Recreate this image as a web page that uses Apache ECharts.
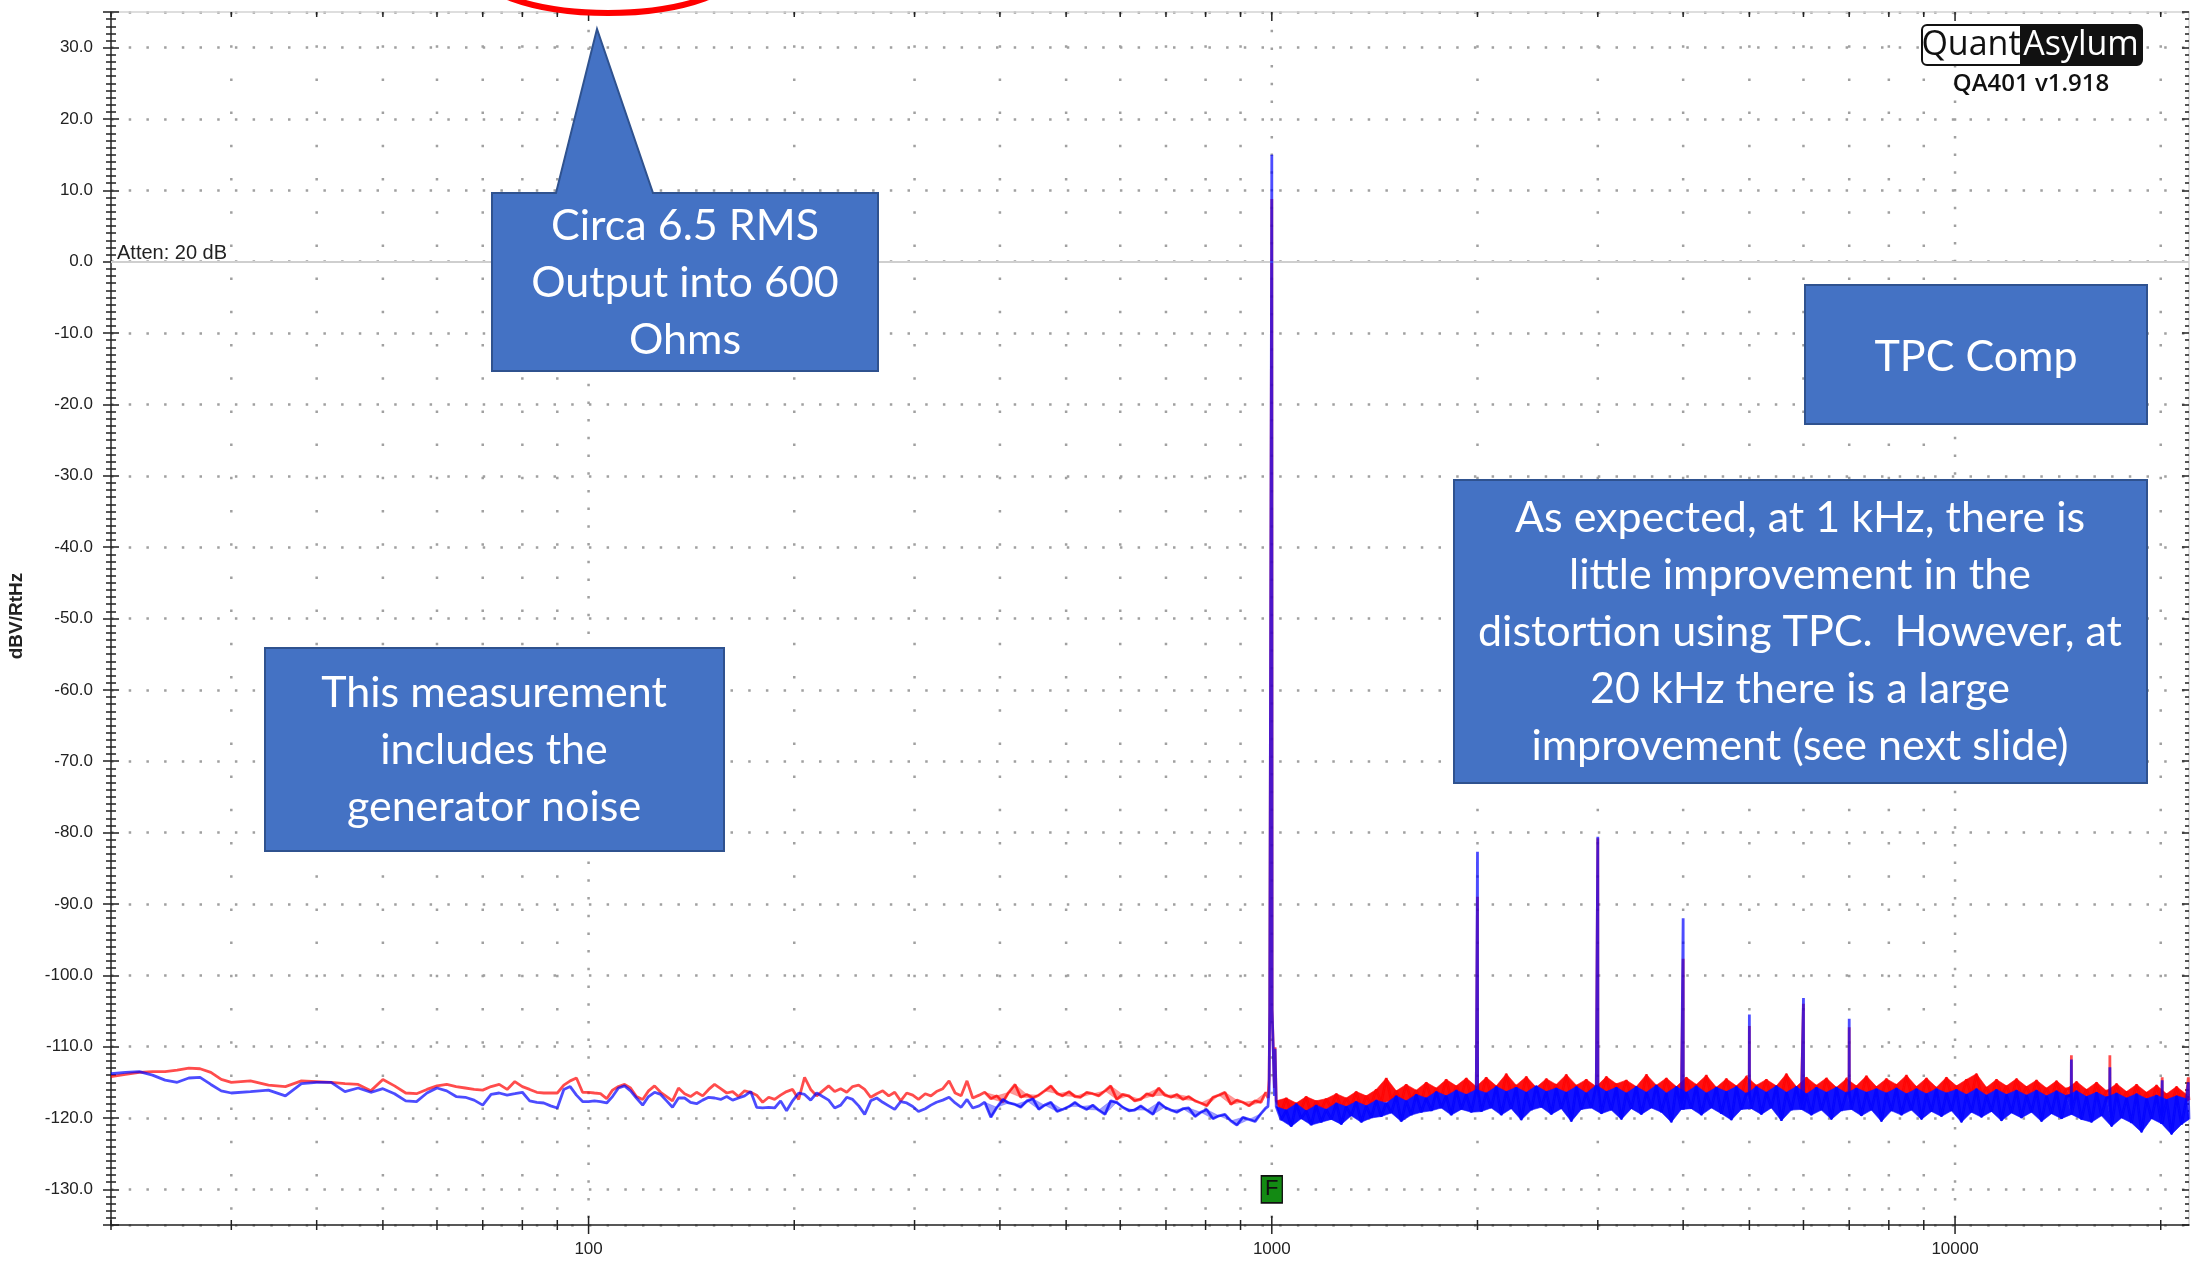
<!DOCTYPE html>
<html>
<head>
<meta charset="utf-8">
<script src="https://cdn.jsdelivr.net/npm/echarts@6.0.0/dist/echarts.min.js"></script>
<style>
html,body{margin:0;padding:0;background:#fff;}
#chart{width:2203px;height:1267px;}
</style>
</head>
<body>
<div id="chart"></div>
<script>
// ---------- axis ranges & tick labels ----------
const X_MIN = 20, X_MAX = 22000;
const Y_MIN = -135, Y_MAX = 35;
const X_LABELS = [100, 1000, 10000];
const X_GRID_FREQS = [20,30,40,50,60,70,80,90,100,200,300,400,500,600,700,800,900,
  1000,2000,3000,4000,5000,6000,7000,8000,9000,10000,20000];

// ---------- noise floor: 20 - 100 Hz ----------
const lowFreqs = [20,21,22,23,24,25,26,27,28,29,30,32,34,36,38,40,42,44,46,48,50,52,54,56,58,60,62,64,66,68,70,72,74,76,78,80,82,84,86,88,90,92,94,96,98];
const redLow = [-114.2,-113.9,-113.6,-113.5,-113.5,-113.3,-113.0,-113.1,-113.6,-114.6,-115.0,
  -114.8,-115.4,-115.6,-114.8,-114.9,-115.0,-115.2,-115.3,-116.2,-114.6,
  -115.5,-116.5,-116.6,-116.0,-115.5,-115.3,-115.6,-115.8,-116.0,-116.1,
  -115.6,-115.3,-116.0,-114.9,-115.6,-116.0,-116.4,-116.5,-116.5,-116.5,
  -115.4,-114.8,-114.4,-116.4];
const blueLow = [-113.8,-113.6,-113.5,-114.0,-114.7,-115.0,-114.4,-114.3,-115.3,-116.2,-116.5,
  -116.3,-116.1,-116.9,-115.2,-115.0,-115.0,-116.3,-115.8,-116.4,-115.9,
  -116.6,-117.6,-117.7,-116.5,-115.8,-116.2,-117.0,-117.1,-117.5,-118.2,
  -116.7,-116.5,-116.8,-116.6,-116.4,-117.6,-117.8,-117.9,-118.3,-118.6,
  -116.0,-115.6,-116.8,-117.7];

// ---------- noise floor: 100 Hz - 1 kHz ----------
const midFreqs = [100,102,104.1,106.3,108.4,110.6,112.9,115.2,117.5,120,
  122.4,124.9,127.5,130.1,132.7,135.4,138.2,141,143.9,146.9,
  149.9,152.9,156.1,159.3,162.5,165.8,169.2,172.7,176.2,179.8,
  183.5,187.2,191,194.9,198.9,203,207.1,211.4,215.7,220.1,
  224.6,229.2,233.9,238.7,243.5,248.5,253.6,258.8,264.1,269.5,
  275,280.6,286.3,292.2,298.2,304,311,317,323,330,
  337,344,351,358,365,373,380,388,396,404,
  412,421,429,438,447,456,465,475,485,494,
  505,515,525,536,547,558,570,581,593,605,
  618,630,643,656,670,683,697,712,726,741,
  756,772,787,803,820,837,854,871,889,907,
  926,945,964,980];
const redMid = [-116.4,-116.5,-116.6,-117.3,-116.1,-115.6,-115.3,-115.8,-117.0,-117.4,
  -116.2,-115.5,-116.4,-117.0,-117.6,-115.8,-116.6,-117.0,-116.4,-116.9,
  -116.0,-115.3,-115.9,-116.5,-116.3,-117.0,-116.2,-116.4,-116.8,-117.8,
  -117.1,-117.4,-116.8,-116.3,-116.0,-117.4,-114.3,-116.0,-116.9,-116.2,
  -115.5,-116.3,-115.9,-116.4,-115.6,-115.4,-116.0,-117.1,-116.6,-116.2,
  -116.9,-116.4,-117.6,-116.5,-116.8,-117.4,-116.6,-116.9,-116.3,-115.9,
  -114.8,-116.5,-116.9,-114.8,-117.2,-116.8,-116.4,-117.3,-116.9,-117.8,
  -116.4,-115.3,-117.1,-116.7,-117.2,-116.8,-116.2,-115.5,-116.6,-116.9,
  -116.3,-117.0,-117.1,-116.4,-116.6,-116.9,-116.2,-115.5,-117.4,-116.7,
  -116.9,-117.6,-117.4,-116.6,-116.9,-115.8,-116.8,-117.1,-116.7,-117.4,
  -117.0,-117.6,-117.9,-118.3,-117.1,-116.8,-116.4,-118.1,-117.5,-117.8,
  -118.3,-117.6,-117.8,-116.4];
const blueMid = [-117.7,-117.6,-117.7,-117.9,-117.0,-115.8,-115.5,-116.2,-117.2,-118.2,
  -117.0,-116.4,-116.7,-117.6,-118.5,-117.2,-117.2,-117.8,-118.0,-117.5,
  -117.1,-117.2,-117.4,-117.0,-117.5,-117.2,-116.9,-116.3,-118.5,-118.6,
  -118.5,-118.6,-117.6,-119.0,-117.6,-116.5,-116.7,-117.5,-116.5,-117.0,
  -117.5,-118.6,-118.2,-117.1,-117.4,-118.3,-119.5,-117.6,-117.2,-117.8,
  -118.3,-118.8,-117.7,-117.9,-118.4,-119.1,-118.7,-118.2,-117.8,-117.5,
  -117.1,-117.9,-118.5,-117.4,-118.6,-118.3,-117.8,-119.9,-118.5,-117.4,
  -117.9,-118.1,-118.5,-117.6,-117.3,-118.8,-118.2,-117.8,-119.1,-118.8,
  -118.4,-117.8,-118.4,-118.8,-118.2,-118.9,-119.5,-117.6,-117.8,-118.5,
  -119.0,-118.9,-118.3,-118.9,-119.5,-117.8,-118.5,-118.9,-119.2,-118.7,
  -118.6,-119.8,-119.2,-118.8,-120.1,-119.7,-119.5,-120.4,-121.0,-119.9,
  -120.2,-120.5,-119.4,-118.6];

// ---------- 1 kHz fundamental ----------
const peakFreqs = [987, 991, 993, 999, 1000, 1001, 1007, 1009, 1011];
const redPeak  = [-117.2, -114.6, -104.8, -104.8, 8.8, -104.8, -104.8, -115.8, -110.1];
const bluePeak = [-118.4, -116.1, -104.8, -104.8, 15.0, -104.8, -104.8, -116.9, -110.3];

// ---------- noise floor: 1 kHz - 22 kHz ----------
const highFreqs = [1015,1032,1050,1068,1086,1104,1123,1142,1161,1181,
  1201,1222,1243,1264,1285,1307,1329,1352,1375,1398,
  1422,1446,1471,1496,1521,1547,1573,1600,1627,1655,
  1683,1712,1741,1770,1800,1831,1862,1894,1926,1959,
  1992,2026,2060,2095,2131,2167,2204,2241,2279,2318,
  2358,2398,2438,2480,2522,2565,2608,2653,2698,2744,
  2791,2838,2886,2935,2985,3036,3088,3140,3194,3248,
  3303,3359,3416,3474,3534,3594,3655,3717,3780,3844,
  3910,3976,4043,4112,4182,4253,4325,4399,4474,4550,
  4627,4706,4786,4867,4950,5034,5120,5207,5295,5385,
  5477,5570,5665,5761,5859,5958,6060,6163,6267,6374,
  6482,6593,6705,6819,6935,7052,7172,7294,7418,7544,
  7672,7803,7935,8070,8207,8347,8489,8633,8780,8929,
  9081,9235,9392,9552,9714,9880,10048,10218,10392,10569,
  10749,10932,11117,11306,11499,11694,11893,12095,12301,12510,
  12723,12939,13159,13383,13610,13842,14077,14316,14560,14807,
  15059,15315,15576,15840,16110,16384,16662,16945,17234,17527,
  17825,18128,18436,18749,19068,19392,19722,20057,20398,20745,
  21098,21457,21822,22000];
const redHigh = [-117.6,-119.2,-117.2,-119.4,-117.9,-118.8,-117.0,-119.5,-117.6,-118.9,
  -117.3,-118.6,-116.6,-118.7,-117.2,-118.4,-116.3,-118.8,-116.9,-118.2,
  -116.0,-117.9,-114.4,-117.6,-116.2,-117.8,-115.3,-117.5,-116.1,-117.9,
  -115.0,-117.4,-115.8,-117.2,-114.6,-117.5,-115.5,-117.0,-114.4,-117.3,
  -115.6,-117.0,-114.3,-116.9,-115.5,-117.2,-113.8,-116.8,-115.4,-117.1,
  -114.2,-116.9,-115.7,-117.3,-114.5,-116.8,-115.3,-117.0,-113.9,-117.2,
  -115.4,-116.9,-114.6,-117.1,-115.6,-116.7,-114.2,-117.2,-115.2,-116.9,
  -114.7,-117.0,-115.6,-117.3,-113.9,-116.8,-115.4,-117.1,-114.4,-116.9,
  -115.6,-117.2,-114.3,-116.8,-115.3,-117.1,-114.0,-117.0,-115.7,-116.9,
  -114.5,-117.2,-115.5,-116.9,-114.2,-117.1,-115.4,-116.8,-114.6,-117.3,
  -115.5,-117.0,-113.8,-116.9,-115.6,-117.1,-114.3,-116.9,-115.4,-117.2,
  -114.4,-116.8,-115.7,-117.0,-114.5,-117.2,-115.5,-116.9,-114.1,-117.1,
  -115.6,-117.0,-114.5,-116.9,-115.3,-117.3,-114.0,-116.8,-115.6,-117.1,
  -114.4,-117.0,-115.7,-117.2,-114.3,-116.9,-115.5,-117.1,-114.6,-117.0,
  -113.8,-116.9,-115.7,-117.2,-114.6,-117.0,-115.5,-117.3,-114.5,-117.0,
  -115.6,-117.2,-114.7,-117.1,-115.8,-117.4,-114.8,-117.2,-115.9,-117.5,
  -114.9,-117.6,-116.0,-117.8,-115.0,-117.6,-116.2,-117.9,-115.2,-117.7,
  -116.3,-118.0,-115.3,-117.9,-116.4,-118.1,-115.4,-118.0,-116.6,-118.2,
  -115.6,-118.1,-116.7,-117.5];
const blueHigh = [-118.4,-120.3,-118.9,-121.2,-118.0,-120.1,-119.0,-121.0,-118.2,-120.6,
  -118.8,-120.2,-117.9,-120.9,-118.4,-119.7,-117.7,-120.6,-118.3,-120.0,
  -117.5,-119.8,-117.9,-119.3,-116.9,-120.5,-117.6,-119.6,-116.7,-119.2,
  -117.2,-119.0,-116.3,-118.6,-116.9,-119.6,-116.1,-118.8,-116.7,-119.2,
  -116.0,-119.1,-116.5,-118.6,-115.6,-119.6,-116.3,-118.7,-115.7,-120.3,
  -116.4,-118.9,-115.5,-118.5,-116.3,-119.5,-115.8,-118.7,-116.4,-120.5,
  -115.6,-118.8,-116.5,-118.6,-115.4,-119.4,-116.3,-118.9,-115.7,-120.2,
  -116.5,-118.7,-115.6,-119.5,-116.4,-118.6,-115.4,-119.2,-116.5,-120.6,
  -115.6,-118.8,-116.4,-118.7,-115.5,-119.6,-116.5,-118.6,-115.7,-119.4,
  -116.3,-120.3,-115.6,-118.8,-116.6,-118.7,-115.6,-119.5,-116.4,-118.6,
  -115.5,-120.4,-116.4,-118.9,-115.6,-118.8,-116.6,-119.6,-115.7,-118.9,
  -116.4,-120.2,-115.7,-119.0,-116.5,-118.8,-115.8,-119.7,-116.4,-118.9,
  -115.9,-120.5,-116.5,-119.0,-115.8,-119.6,-116.6,-118.9,-115.9,-120.2,
  -116.6,-119.1,-115.9,-119.8,-116.5,-119.0,-116.0,-120.6,-116.7,-119.2,
  -115.9,-119.9,-116.8,-119.1,-116.0,-120.4,-116.7,-119.3,-116.1,-120.0,
  -116.8,-119.2,-116.1,-120.5,-116.9,-119.4,-116.2,-120.1,-116.9,-119.5,
  -116.2,-120.2,-117.0,-120.6,-116.4,-119.7,-117.1,-121.2,-116.5,-120.0,
  -117.2,-120.7,-116.6,-122.0,-117.3,-120.1,-116.8,-120.8,-117.4,-122.3,
  -116.9,-120.9,-117.3,-120.2];

// ---------- harmonic / spur spikes ----------
const harmFreqs = [2000, 3000, 4000, 5000, 6000, 7000, 14800, 16850, 20100, 21950];
const harmRed   = [-89.0, -80.8, -97.7, -107.1, -104.0, -107.3, -111.2, -111.2, -114.3, -114.3];
const harmBlue  = [-82.7, -80.6, -92.0, -105.5, -103.2, -106.1, -111.8, -112.9, -114.7, -115.0];

// ---------- marker ----------
const markerPoint = [1000, -130];

// ---------- build series data ----------
const allFreqs = lowFreqs.concat(midFreqs, peakFreqs, highFreqs);
const allRed = redLow.concat(redMid, redPeak, redHigh);
const allBlue = blueLow.concat(blueMid, bluePeak, blueHigh);

function buildLine(freqs, vals, hF, hV) {
  const base = freqs.map((f, i) => [f, vals[i]]);
  const pts = base.slice();
  hF.forEach((f, i) => {
    let b = base[0][1];
    for (const p of base) { if (p[0] <= f) b = p[1]; }
    pts.push([f * 0.9996, b], [f, hV[i]], [f * 1.0004, b]);
  });
  pts.sort((a, b) => a[0] - b[0]);
  return pts;
}
const redData = buildLine(allFreqs, allRed, harmFreqs, harmRed);
const blueData = buildLine(allFreqs, allBlue, harmFreqs, harmBlue);

// rows of three consecutive samples: the dense FFT trace fills the area between them
function bandRows(freqs, vals) {
  const rows = [];
  for (let i = 0; i + 2 < freqs.length; i++) {
    rows.push([freqs[i], vals[i], freqs[i + 1], vals[i + 1], freqs[i + 2], vals[i + 2]]);
  }
  return rows;
}
const MID_BAND_START = 66;
const redBandHigh = bandRows(highFreqs, redHigh);
const blueBandHigh = bandRows(highFreqs, blueHigh);
const redBandMid = bandRows(midFreqs.slice(MID_BAND_START), redMid.slice(MID_BAND_START));
const blueBandMid = bandRows(midFreqs.slice(MID_BAND_START), blueMid.slice(MID_BAND_START));

function makeBandRenderer(color) {
  return function (params, api) {
    const p0 = api.coord([api.value(0), api.value(1)]);
    const p1 = api.coord([api.value(2), api.value(3)]);
    const p2 = api.coord([api.value(4), api.value(5)]);
    return { type: 'polygon', shape: { points: [p0, p1, p2] }, style: { fill: color, stroke: color, lineWidth: 0.6 } };
  };
}

function isDecade(v) {
  const l = Math.log10(v);
  return Math.abs(l - Math.round(l)) < 1e-6;
}
function xLabel(v) {
  const r = Math.round(v);
  return (isDecade(v) && X_LABELS.indexOf(r) >= 0) ? String(r) : '';
}
function yLabel(v) {
  return Math.abs(v / 10 - Math.round(v / 10)) < 1e-6 ? Number(v).toFixed(1) : '';
}

function renderGrid(params, api) {
  const f = api.value(0);
  const top = api.coord([f, Y_MAX]);
  const bot = api.coord([f, Y_MIN]);
  const dec = isDecade(f);
  const children = [];
  if (f > X_MIN * 1.001) {
    children.push({
      type: 'line',
      shape: { x1: top[0], y1: top[1], x2: bot[0], y2: bot[1] },
      style: { stroke: '#a0a0a0', lineWidth: 2.5, lineDash: dec ? [2.5, 15.2] : [2.5, 30.7] }
    });
  }
  const tl = dec ? 9 : 5;
  children.push({
    type: 'line',
    shape: { x1: bot[0], y1: bot[1] - tl, x2: bot[0], y2: bot[1] + tl },
    style: { stroke: '#222', lineWidth: 1.5 }
  });
  children.push({
    type: 'line',
    shape: { x1: top[0], y1: top[1], x2: top[0], y2: top[1] + tl },
    style: { stroke: '#222', lineWidth: 1.5 }
  });
  return { type: 'group', children: children };
}

const AX_FONT = '"Liberation Sans", Arial, sans-serif';
const BOX_FONT = 'Lato, "Open Sans", sans-serif';
const BAND_ENC = { x: [0, 2, 4], y: [1, 3, 5] };

const option = {
  animation: false,
  backgroundColor: '#ffffff',
  grid: { left: 111, right: 14, top: 12, bottom: 42, containLabel: false },
  xAxis: [
    {
      type: 'log', logBase: 10, min: X_MIN, max: X_MAX, position: 'bottom',
      axisLine: { show: true, onZero: false, lineStyle: { color: '#222', width: 1.5 } },
      axisTick: { show: false }, splitLine: { show: false },
      minorTick: { show: false }, minorSplitLine: { show: false },
      axisLabel: { formatter: xLabel, fontSize: 17, color: '#222', fontFamily: AX_FONT, margin: 16 }
    },
    {
      type: 'log', logBase: 10, min: X_MIN, max: X_MAX, position: 'top',
      axisLine: { show: true, onZero: false, lineStyle: { color: '#d4d4d4', width: 1.5 } },
      axisTick: { show: false }, axisLabel: { show: false }, splitLine: { show: false }
    }
  ],
  yAxis: [
    {
      type: 'value', min: Y_MIN, max: Y_MAX, splitNumber: 17, position: 'left',
      axisLine: { show: true, onZero: false, lineStyle: { color: '#222', width: 1.5 } },
      axisTick: { show: true, length: 8, lineStyle: { color: '#222', width: 1.5 } },
      minorTick: { show: true, splitNumber: 10, length: 5, lineStyle: { color: '#222', width: 1.5 } },
      axisLabel: { formatter: yLabel, fontSize: 17, color: '#222', fontFamily: AX_FONT, margin: 18 },
      splitLine: { show: true, lineStyle: { color: '#a0a0a0', width: 2.5, type: [2.5, 15.2] } }
    },
    {
      type: 'value', min: Y_MIN, max: Y_MAX, splitNumber: 17, position: 'right',
      axisLine: { show: true, onZero: false, lineStyle: { color: '#d4d4d4', width: 1.5 } },
      axisTick: { show: true, inside: true, length: 7, lineStyle: { color: '#222', width: 1.5 } },
      minorTick: { show: true, splitNumber: 10, length: 4, lineStyle: { color: '#222', width: 1.5 } },
      axisLabel: { show: false }, splitLine: { show: false }
    },
    {
      type: 'value', min: Y_MIN, max: Y_MAX, splitNumber: 17, position: 'left',
      axisLine: { show: false, onZero: false },
      axisTick: { show: true, inside: true, length: 8, lineStyle: { color: '#222', width: 1.5 } },
      minorTick: { show: true, splitNumber: 10, length: 5, lineStyle: { color: '#222', width: 1.5 } },
      axisLabel: { show: false }, splitLine: { show: false }
    }
  ],
  series: [
    {
      type: 'custom', name: 'freqGrid', renderItem: renderGrid,
      data: X_GRID_FREQS.map(f => [f, Y_MIN]), encode: { x: 0, y: 1 },
      clip: false, silent: true, z: 1
    },
    {
      type: 'custom', name: 'Left band mid', renderItem: makeBandRenderer('rgba(255,70,70,0.55)'),
      data: redBandMid, encode: BAND_ENC, clip: true, silent: true, z: 2
    },
    {
      type: 'custom', name: 'Left band', renderItem: makeBandRenderer('#ff1010'),
      data: redBandHigh, encode: BAND_ENC, clip: true, silent: true, z: 2
    },
    {
      type: 'line', name: 'Left', data: redData, showSymbol: false, symbol: 'none',
      lineStyle: { color: '#ff0000', width: 2.8, opacity: 0.7 }, z: 3, silent: true,
      markLine: {
        silent: true, symbol: 'none', label: { show: false },
        lineStyle: { color: '#cfcfcf', width: 2, type: 'solid' },
        data: [{ yAxis: 0 }]
      }
    },
    {
      type: 'custom', name: 'Right band mid', renderItem: makeBandRenderer('rgba(60,60,255,0.5)'),
      data: blueBandMid, encode: BAND_ENC, clip: true, silent: true, z: 4
    },
    {
      type: 'custom', name: 'Right band', renderItem: makeBandRenderer('#1212ff'),
      data: blueBandHigh, encode: BAND_ENC, clip: true, silent: true, z: 4
    },
    {
      type: 'line', name: 'Right', data: blueData, showSymbol: false, symbol: 'none',
      lineStyle: { color: '#0000ff', width: 2.8, opacity: 0.7 }, z: 5, silent: true
    },
    {
      type: 'scatter', name: 'marker', data: [markerPoint], symbol: 'rect', symbolSize: [21, 27],
      itemStyle: { color: '#138a13', borderColor: '#111', borderWidth: 1.5, opacity: 1 },
      label: { show: true, formatter: 'F', position: 'inside', color: '#111', fontSize: 22, fontFamily: AX_FONT },
      z: 6, silent: true
    }
  ],
  graphic: [
    { type: 'ellipse', z: 100, shape: { cx: 608, cy: -37, rx: 137, ry: 50 },
      style: { fill: 'none', stroke: '#ff0000', lineWidth: 6 } },
    { type: 'polygon', z: 100,
      shape: { points: [[492,193],[556,193],[597,29],[653,193],[878,193],[878,371],[492,371]] },
      style: { fill: '#4472C4', stroke: '#2F528F', lineWidth: 2 } },
    { type: 'text', z: 101, x: 685, y: 283,
      style: { text: 'Circa 6.5 RMS\nOutput into 600\nOhms', align: 'center', verticalAlign: 'middle',
        fill: '#ffffff', fontSize: 43, fontFamily: BOX_FONT, lineHeight: 57 } },
    { type: 'rect', z: 100, shape: { x: 1805, y: 285, width: 342, height: 139 },
      style: { fill: '#4472C4', stroke: '#2F528F', lineWidth: 2 } },
    { type: 'text', z: 101, x: 1976, y: 357,
      style: { text: 'TPC Comp', align: 'center', verticalAlign: 'middle',
        fill: '#ffffff', fontSize: 43, fontFamily: BOX_FONT } },
    { type: 'rect', z: 100, shape: { x: 1454, y: 480, width: 693, height: 303 },
      style: { fill: '#4472C4', stroke: '#2F528F', lineWidth: 2 } },
    { type: 'text', z: 101, x: 1800, y: 632,
      style: { text: 'As expected, at 1 kHz, there is\nlittle improvement in the\ndistortion using TPC.  However, at\n20 kHz there is a large\nimprovement (see next slide)',
        align: 'center', verticalAlign: 'middle', fill: '#ffffff', fontSize: 43, fontFamily: BOX_FONT, lineHeight: 57 } },
    { type: 'rect', z: 100, shape: { x: 265, y: 648, width: 459, height: 203 },
      style: { fill: '#4472C4', stroke: '#2F528F', lineWidth: 2 } },
    { type: 'text', z: 101, x: 494, y: 750,
      style: { text: 'This measurement\nincludes the\ngenerator noise', align: 'center', verticalAlign: 'middle',
        fill: '#ffffff', fontSize: 43, fontFamily: BOX_FONT, lineHeight: 57 } },
    // logo
    { type: 'rect', z: 100, shape: { x: 1922, y: 25, width: 220, height: 40, r: 5 },
      style: { fill: '#ffffff', stroke: '#111', lineWidth: 2 } },
    { type: 'rect', z: 100, shape: { x: 2020, y: 25, width: 122, height: 40, r: [0, 5, 5, 0] },
      style: { fill: '#111' } },
    { type: 'text', z: 101, x: 1971, y: 45,
      style: { text: 'Quant', align: 'center', verticalAlign: 'middle', fill: '#111', fontSize: 34, fontFamily: '"Open Sans", sans-serif' } },
    { type: 'text', z: 101, x: 2081, y: 45,
      style: { text: 'Asylum', align: 'center', verticalAlign: 'middle', fill: '#ffffff', fontSize: 34, fontFamily: '"Open Sans", sans-serif' } },
    { type: 'text', z: 101, x: 2031, y: 84,
      style: { text: 'QA401 v1.918', align: 'center', verticalAlign: 'middle', fill: '#111', fontSize: 24, fontWeight: 600, fontFamily: '"Open Sans", sans-serif' } },
    // axis name and attenuation note
    { type: 'text', z: 101, x: 17, y: 616, rotation: Math.PI / 2,
      style: { text: 'dBV/RtHz', align: 'center', verticalAlign: 'middle', fill: '#222', fontSize: 19, fontWeight: 'bold', fontFamily: AX_FONT } },
    { type: 'text', z: 101, x: 117, y: 253,
      style: { text: 'Atten: 20 dB', align: 'left', verticalAlign: 'middle', fill: '#222', fontSize: 20, fontFamily: AX_FONT } }
  ]
};

const chart = echarts.init(document.getElementById('chart'), null, { renderer: 'canvas' });
chart.setOption(option);
</script>
</body>
</html>
